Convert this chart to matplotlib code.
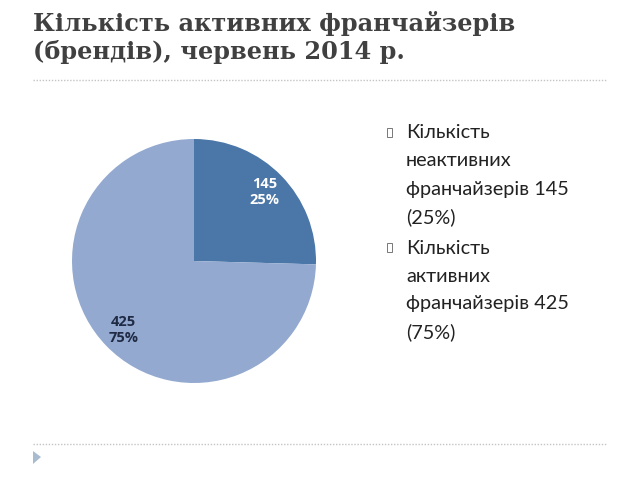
import matplotlib.pyplot as plt
from matplotlib.lines import Line2D
from matplotlib.patches import Polygon, Rectangle

# Data
slice_labels = ['Кількість неактивних франчайзерів', 'Кількість активних франчайзерів']
slice_values = [145, 425]
slice_colors = ['#4a76a8', '#93a9cf']
label_colors = ['white', '#1f2a44']

title_lines = ['Кількість активних франчайзерів', '(брендів), червень 2014 р.']
bullet_lines = [
    ['Кількість', 'неактивних', 'франчайзерів 145', '(25%)'],
    ['Кількість', 'активних', 'франчайзерів 425', '(75%)'],
]

W, H = 640, 480
fig = plt.figure(figsize=(6.4, 4.8), dpi=100)
fig.patch.set_facecolor('white')

def px(x, y):
    # pixel coords (top-left origin) to figure fraction
    return x / W, 1 - y / H

# title
for i, line in enumerate(title_lines):
    fig.text(*px(33, 23 + i * 29), line, fontsize=17.3, fontweight='bold',
             family='DejaVu Serif', color='#404040', va='center', ha='left')

# dotted separators
for y in (80, 444):
    x0, yy = px(33, y)
    x1, _ = px(607, y)
    fig.add_artist(Line2D([x0, x1], [yy, yy], transform=fig.transFigure,
                          color='#c4c4c4', linestyle=(0, (1, 1.2)), linewidth=1))

# small triangle bottom-left
tri = Polygon([px(33, 451), px(41, 457), px(33, 464)], closed=True,
              transform=fig.transFigure, color='#a9bccf', lw=0)
fig.add_artist(tri)

# pie
cx, cy, r = 194, 261, 122
ax = fig.add_axes([(cx - r) / W, (H - cy - r) / H, 2 * r / W, 2 * r / H])
total = sum(slice_values)
wedges, texts, autotexts = ax.pie(
    slice_values, colors=slice_colors, startangle=90, counterclock=False,
    autopct=lambda p: f"{round(p * total / 100)}\n{p:.0f}%", pctdistance=0.81,
    wedgeprops=dict(linewidth=0), radius=1,
    textprops=dict(fontsize=10.5, fontweight='bold', family='Open Sans', linespacing=1.15))
for t, c in zip(autotexts, label_colors):
    t.set_color(c)
ax.set_xlim(-1, 1)
ax.set_ylim(-1, 1)
ax.set_aspect('equal')
ax.axis('off')

# bullet text
y = 133
for group in bullet_lines:
    bx, by = px(387, y + 4)
    fig.add_artist(Rectangle((bx, by), 5 / W, 9 / H, transform=fig.transFigure,
                             fill=False, edgecolor='#777777', linewidth=0.7))
    for line in group:
        fig.text(*px(406, y), line, fontsize=14.3, family='Lato',
                 color='#222222', va='center', ha='left')
        y += 28
    y += 3

fig.savefig('out.png', dpi=100)
